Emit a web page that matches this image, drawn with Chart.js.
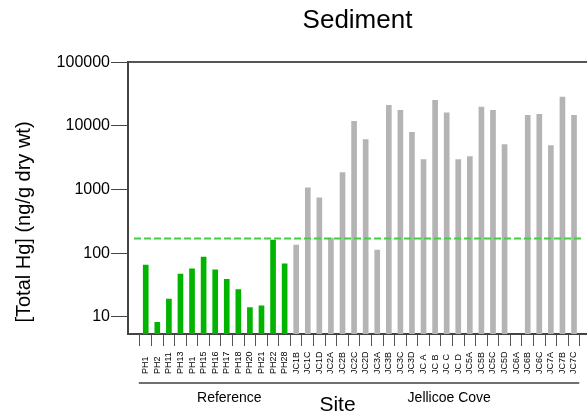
<!DOCTYPE html>
<html>
<head>
<meta charset="utf-8">
<script src="https://cdn.jsdelivr.net/npm/chart.js@4/dist/chart.umd.min.js"></script>
<style>
  body { margin: 0; background: #fff; }
  #wrap { width: 587px; height: 415px; }
</style>
</head>
<body>
<div id="wrap"><canvas id="sediment"></canvas></div>
<script>
var sites = ["PH1", "PH2", "PH11", "PH13", "PH1", "PH15", "PH16", "PH17", "PH18", "PH20", "PH21", "PH22", "PH28",
  "JC1B", "JC1C", "JC1D", "JC2A", "JC2B", "JC2C", "JC2D", "JC3A", "JC3B", "JC3C", "JC3D",
  "JC A", "JC B", "JC C", "JC D", "JC5A", "JC5B", "JC5C", "JC5D", "JC6A", "JC6B", "JC6C", "JC7A", "JC7B", "JC7C"];
var referenceHg = [65, 8.2, 19, 47, 57, 87, 55, 39, 27, 14, 15, 161, 68];
var jellicoeHg = [134, 1070, 740, 173, 1850, 11800, 6100, 112, 21100, 17600, 7900,
  2960, 25100, 16000, 2960, 3300, 19700, 17600, 5100, null, 14700, 15200, 4900, 28300, 14700];
var guideline = 170;
var yTicks = [10, 100, 1000, 10000, 100000];
var groups = [
  { name: "Reference", first: 0, last: 12 },
  { name: "Jellicoe Cove", first: 13, last: 37 }
];

var font = 'Arial, "Liberation Sans", sans-serif';
var allHg = referenceHg.concat(jellicoeHg);
var barPoints = allHg.map(function (v, i) { return { x: i, y: v }; });
var barColors = allHg.map(function (v, i) { return i < referenceHg.length ? "#00b400" : "#b4b4b4"; });

var xMin = -1.01, xMax = 37.6;

// text bits and group brackets under the axis
var extras = {
  id: "extras",
  afterDraw: function (chart) {
    var c = chart.ctx, x = chart.scales.x, area = chart.chartArea;
    c.save();
    c.fillStyle = "#000";
    c.font = "9px " + font;
    c.textAlign = "left";
    c.textBaseline = "middle";
    sites.forEach(function (s, i) {
      c.save();
      c.translate(x.getPixelForValue(i), 374);
      c.rotate(-Math.PI / 2);
      c.fillText(s, 0, 0);
      c.restore();
    });

    c.strokeStyle = "#707070";
    c.lineWidth = 2;
    c.font = "14px " + font;
    c.textAlign = "center";
    groups.forEach(function (g) {
      var x0 = x.getPixelForValue(g.first - 0.6);
      var x1 = Math.min(x.getPixelForValue(g.last + 0.45), area.right);
      c.beginPath();
      c.moveTo(x0, 383);
      c.lineTo(x1, 383);
      c.stroke();
      c.fillText(g.name, (x0 + x1) / 2 + 15, 398);
    });

    c.font = "21px " + font;
    c.fillText("Site", (area.left + area.right) / 2 - 20, 405);

    c.font = "20px " + font;
    c.translate(24, 222);
    c.rotate(-Math.PI / 2);
    c.fillText("[Total Hg] (ng/g dry wt)", 0, 0);
    c.restore();
  }
};

new Chart(document.getElementById("sediment"), {
  type: "bar",
  data: {
    datasets: [{
        type: "line",
        data: [{ x: xMin, y: guideline }, { x: xMax, y: guideline }],
        borderColor: "#44cc44",
        borderWidth: 2,
        borderDash: [7, 3],
        pointRadius: 0,
        fill: false
      },
      {
        type: "bar",
        data: barPoints,
        backgroundColor: barColors,
        borderWidth: 0,
        barThickness: 5
      }
    ]
  },
  options: {
    responsive: true,
    maintainAspectRatio: false,
    animation: false,
    layout: { padding: 0 },
    plugins: {
      legend: { display: false },
      tooltip: { enabled: false },
      title: {
        display: true,
        text: "Sediment",
        fullSize: false,
        color: "#000",
        font: { size: 26, family: font, weight: "normal" },
        padding: { top: 5, bottom: 26 }
      }
    },
    scales: {
      x: {
        type: "linear",
        min: xMin,
        max: xMax,
        afterBuildTicks: function (s) {
          s.ticks = sites.map(function (n, i) { return { value: i }; });
        },
        afterFit: function (s) { s.height = 81; },
        grid: {
          drawOnChartArea: false,
          drawTicks: true,
          tickLength: 12,
          color: "#555"
        },
        border: { color: "#444", width: 2 },
        ticks: { display: false }
      },
      xTop: {
        type: "linear",
        position: "top",
        min: 0,
        max: 1,
        afterFit: function (s) { s.height = 0; },
        grid: { display: false, drawTicks: false },
        border: { color: "#555", width: 2 },
        ticks: { display: false }
      },
      y: {
        type: "logarithmic",
        min: 5.4,
        max: 100000,
        afterBuildTicks: function (s) {
          s.ticks = yTicks.map(function (v) { return { value: v }; });
        },
        afterFit: function (s) { s.width = 128; },
        grid: {
          drawOnChartArea: false,
          drawTicks: true,
          tickLength: 17,
          color: "#444"
        },
        border: { color: "#444", width: 2 },
        ticks: {
          padding: 1,
          color: "#000",
          font: { size: 16, family: font },
          callback: function (v) { return String(v); }
        }
      }
    }
  },
  plugins: [extras]
});
</script>
</body>
</html>
